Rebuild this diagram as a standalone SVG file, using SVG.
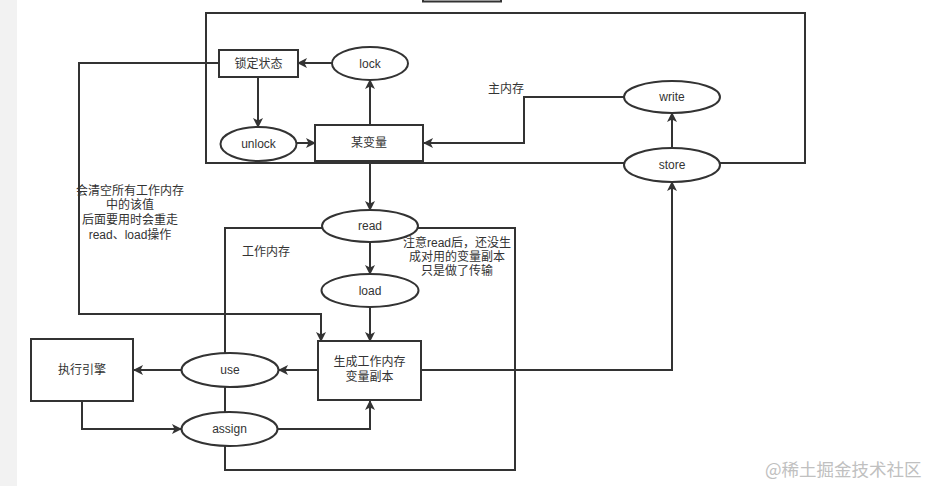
<svg xmlns="http://www.w3.org/2000/svg" width="932" height="486" viewBox="0 0 932 486">
<defs>
<marker id="ah" markerWidth="10" markerHeight="10" refX="9" refY="5" orient="auto" markerUnits="userSpaceOnUse">
<path d="M0,0 L10,5 L0,10 L2.5,5 Z" fill="#333"/>
</marker>
<style>
.ln{fill:none;stroke:#333;stroke-width:2}
.cn{fill:none;stroke:#333;stroke-width:2;marker-end:url(#ah)}
.nd{fill:#fff;stroke:#333;stroke-width:2}
.t{font-family:"Liberation Sans","Noto Sans CJK SC",sans-serif;font-size:12px;fill:#333;text-anchor:middle}
.wm{font-family:"Noto Sans CJK SC","Liberation Sans",sans-serif;font-size:17.5px;fill:#c0c0c0}
</style>
</defs>
<rect width="932" height="486" fill="#fff"/>
<rect x="0" y="0" width="17" height="486" fill="#f2f2f2"/>
<g id="containers">
<rect x="423" y="-10" width="78" height="11.5" class="ln"/>
<rect x="206" y="13" width="599" height="150" class="ln"/>
<rect x="225" y="228" width="290" height="242" class="ln"/>
</g>
<g id="connectors">
<path d="M332,63 H298" class="cn"/>
<path d="M258,77 V127" class="cn"/>
<path d="M296,143 H315" class="cn"/>
<path d="M370,125 V80" class="cn"/>
<path d="M624,97 H524 V143 H424" class="cn"/>
<path d="M672,148 V113" class="cn"/>
<path d="M370,161 V210" class="cn"/>
<path d="M370,242 V274" class="cn"/>
<path d="M370,307 V341" class="cn"/>
<path d="M219,63 H79 V314 H321 V341" class="cn"/>
<path d="M318,370 H279" class="cn"/>
<path d="M182,370 H134" class="cn"/>
<path d="M82,401 V429 H181" class="cn"/>
<path d="M278,429 H370 V401" class="cn"/>
<path d="M421,370 H672 V182" class="cn"/>
</g>
<g id="lockstate"><rect x="219" y="50" width="79" height="27" class="nd"/><text x="258.5" y="68" class="t">锁定状态</text></g>
<g id="lock"><ellipse cx="370" cy="63.5" rx="38" ry="16.5" class="nd"/><text x="370" y="68" class="t">lock</text></g>
<g id="unlock"><ellipse cx="258.5" cy="144" rx="38" ry="17" class="nd"/><text x="258.5" y="148" class="t">unlock</text></g>
<g id="var"><rect x="315" y="125" width="108" height="36" class="nd"/><text x="369" y="147" class="t">某变量</text></g>
<g id="write"><ellipse cx="672" cy="97" rx="48" ry="16" class="nd"/><text x="672" y="101" class="t">write</text></g>
<g id="store"><ellipse cx="672" cy="165" rx="48" ry="17" class="nd"/><text x="672" y="169" class="t">store</text></g>
<g id="mainmem-label"><text x="506" y="93" class="t">主内存</text></g>
<g id="read"><ellipse cx="370" cy="226" rx="48" ry="16" class="nd"/><text x="370" y="230" class="t">read</text></g>
<g id="load"><ellipse cx="370" cy="290.5" rx="48.5" ry="16.5" class="nd"/><text x="370" y="295" class="t">load</text></g>
<g id="workmem-label"><text x="266" y="256" class="t">工作内存</text></g>
<g id="note-read"><text class="t"><tspan x="457" y="247">注意read后，还没生</tspan><tspan x="457" y="261">成对用的变量副本</tspan><tspan x="457" y="275">只是做了传输</tspan></text></g>
<g id="note-clear"><text class="t"><tspan x="130" y="195">会清空所有工作内存</tspan><tspan x="130" y="209">中的该值</tspan><tspan x="130" y="224">后面要用时会重走</tspan><tspan x="130" y="239">read、load操作</tspan></text></g>
<g id="copy"><rect x="318" y="341" width="103" height="59" class="nd"/><text class="t"><tspan x="369.5" y="366">生成工作内存</tspan><tspan x="369.5" y="381">变量副本</tspan></text></g>
<g id="use"><ellipse cx="230" cy="370" rx="48.5" ry="17" class="nd"/><text x="230" y="374" class="t">use</text></g>
<g id="assign"><ellipse cx="229.5" cy="429" rx="48" ry="17" class="nd"/><text x="229.5" y="433" class="t">assign</text></g>
<g id="engine"><rect x="31" y="339" width="102" height="62" class="nd"/><text x="82" y="374" class="t">执行引擎</text></g>
<text x="765" y="476" class="wm">@稀土掘金技术社区</text>
</svg>
